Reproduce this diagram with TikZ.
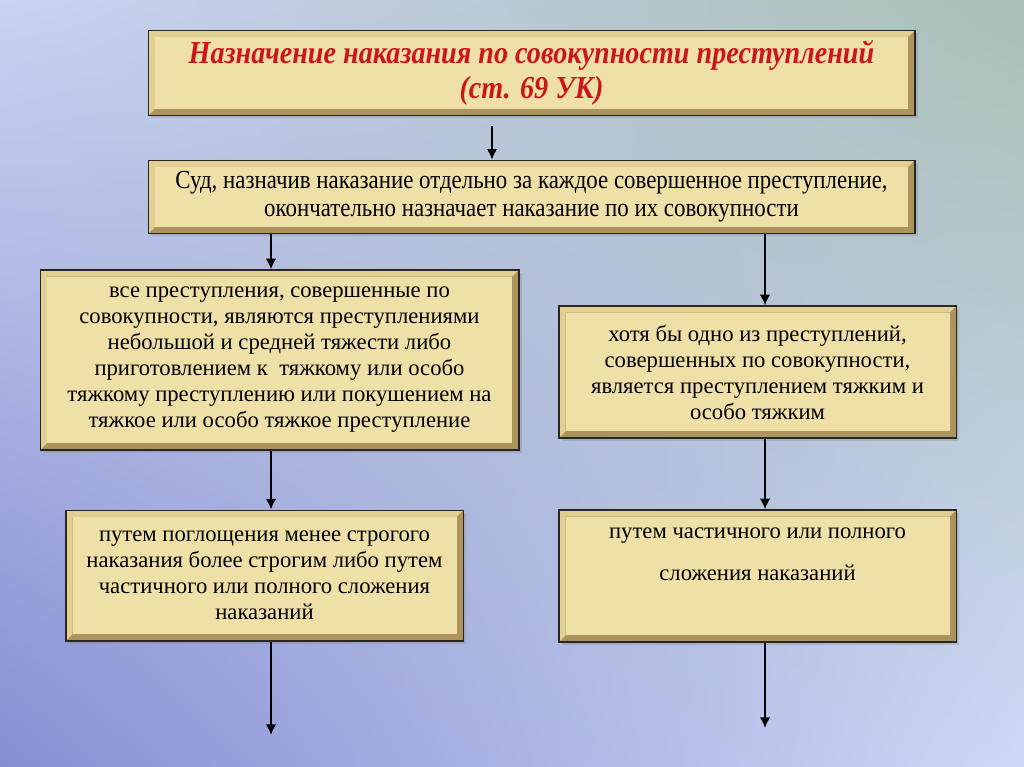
\documentclass[tikz,border=0pt]{standalone}
\usepackage{fontspec}
\setmainfont{Liberation Serif}
\newfontfamily\narrowserif[FakeStretch=0.88]{Liberation Serif}
\usepackage{tikz}
\usetikzlibrary{arrows.meta, shadows, shadings}
\definecolor{paper}{RGB}{239,224,167}
\definecolor{bevlight}{RGB}{226,208,146}
\definecolor{bevdark}{RGB}{172,148,92}
\definecolor{titlered}{RGB}{204,22,26}
\definecolor{bgul}{RGB}{202,210,242}
\definecolor{bgur}{RGB}{168,192,182}
\definecolor{bgll}{RGB}{134,142,210}
\definecolor{bglr}{RGB}{206,216,246}

\begin{document}
\begin{tikzpicture}[x=0.75pt, y=-0.75pt,
  box/.style={rectangle, draw=black!85, line width=1pt, fill=bevdark, align=center,
              inner sep=0pt, font=\fontsize{17}{19.5}\selectfont,
              drop shadow={shadow xshift=2pt, shadow yshift=-2pt, opacity=0.3},
              path picture={
                \fill[bevlight] (path picture bounding box.north west)
                  -- (path picture bounding box.north east) -- ++(-5pt,-5pt)
                  -| ([shift={(5pt,5pt)}]path picture bounding box.south west)
                  -- (path picture bounding box.south west) -- cycle;
                \fill[paper] ([shift={(5pt,-5pt)}]path picture bounding box.north west)
                  rectangle ([shift={(-5pt,5pt)}]path picture bounding box.south east);
              }},
  arrow/.style={-{Latex[length=8pt, width=8pt]}, line width=2pt, black}]

\useasboundingbox (0,0) rectangle (1024,767);
\shade[upper left=bgul, upper right=bgur, lower left=bgll, lower right=bglr]
  (0,0) rectangle (1024,767);

\node[box, minimum width=575pt, minimum height=64pt,
      font=\narrowserif\fontsize{24}{26}\selectfont\bfseries\itshape, text=titlered]
  (b1) at (531.5,73) {Назначение наказания по совокупности преступлений\\(ст. 69 УК)};
\node[box, minimum width=575pt, minimum height=55pt,
      font=\narrowserif\fontsize{19.5}{21}\selectfont]
  (b2) at (531.5,197) {Суд, назначив наказание отдельно за каждое совершенное преступление,\\окончательно назначает наказание по их совокупности};
\node[box, minimum width=359pt, minimum height=135pt]
  (b3) at (279.5,360) {все преступления, совершенные по\\совокупности, являются преступлениями\\небольшой и средней тяжести либо\\приготовлением к\ \ тяжкому или особо\\тяжкому преступлению или покушением на\\тяжкое или особо тяжкое преступление};
\node[box, minimum width=298pt, minimum height=99pt]
  (b4) at (757.5,372) {хотя бы одно из преступлений,\\совершенных по совокупности,\\является преступлением тяжким и\\особо тяжким};
\node[box, minimum width=298pt, minimum height=98pt]
  (b5) at (264.5,575.5) {путем поглощения менее строгого\\наказания более строгим либо путем\\частичного или полного сложения\\наказаний};
\node[box, minimum width=298pt, minimum height=99pt]
  (b6) at (757.5,576) {};
\node[anchor=north, align=center, font=\fontsize{17}{19.5}\selectfont, inner sep=0pt]
  (b6t) at ([yshift=-14pt]b6.north) {путем частичного или полного\\[12pt]сложения наказаний};

\coordinate (s0) at (492,126);
\coordinate (xl) at (271,0);
\coordinate (xr) at (765,0);
\coordinate (e5) at (271,735);
\coordinate (e6) at (765,728);

\draw[arrow] (s0) -- (s0 |- b2.north);
\draw[arrow] (b2.south -| xl) -- (b3.north -| xl);
\draw[arrow] (b2.south -| xr) -- (b4.north -| xr);
\draw[arrow] (b3.south -| xl) -- (b5.north -| xl);
\draw[arrow] (b4.south -| xr) -- (b6.north -| xr);
\draw[arrow] (b5.south -| xl) -- (e5);
\draw[arrow] (b6.south -| xr) -- (e6);
\end{tikzpicture}
\end{document}
